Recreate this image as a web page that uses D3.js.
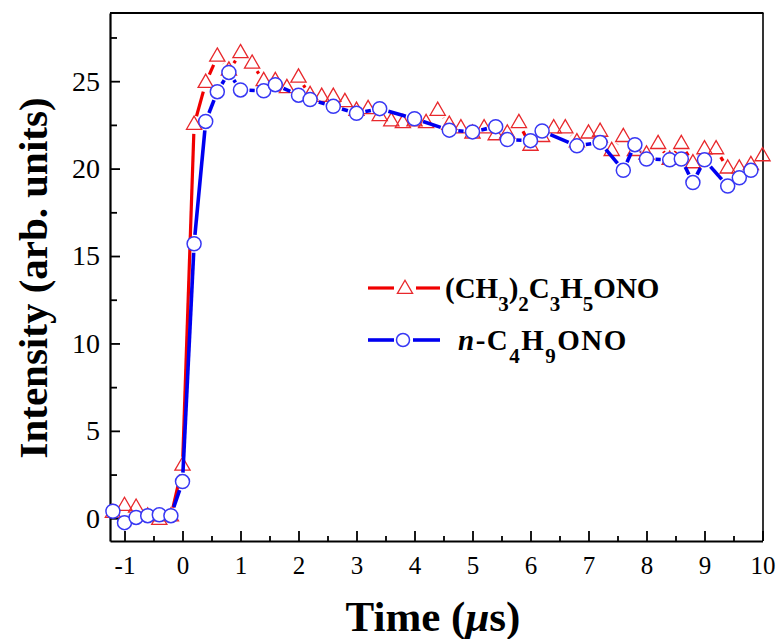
<!DOCTYPE html>
<meta charset="utf-8">
<style>
    body {
        margin: 0;
        background-color: white;
    }

    text {
        font-family: "Liberation Serif", "Times New Roman", serif;
    }

    .axis path,
    .axis line {
        stroke: black;
    }
</style>

<body>
    <script src="https://d3js.org/d3.v7.min.js"></script>

    <script>
        // (CH3)2C3H5ONO - triangles
        const redTime = [-1.2, -1.0, -0.8, -0.6, -0.4, -0.2, 0.0, 0.2, 0.4, 0.6, 0.8, 1.0, 1.2, 1.4, 1.6, 1.8,
            2.0, 2.2, 2.4, 2.6, 2.8, 3.0, 3.2, 3.4, 3.6, 3.8, 4.0, 4.2, 4.4, 4.6, 4.8, 5.0, 5.2, 5.4, 5.6, 5.8,
            6.0, 6.2, 6.4, 6.6, 6.8, 7.0, 7.2, 7.4, 7.6, 7.8, 8.0, 8.2, 8.4, 8.6, 8.8, 9.0, 9.2, 9.4, 9.6, 9.8, 10.0]
        const redIntensity = [0.3, 0.7, 0.6, 0.1, -0.1, 0.1, 3.0, 22.5, 24.9, 26.4, 25.6, 26.6, 26.0, 25.0, 25.0, 24.6,
            25.2, 24.2, 24.1, 24.1, 23.8, 23.3, 23.4, 23.0, 22.7, 22.6, 22.7, 22.6, 23.3, 22.5, 22.3, 22.0, 22.3, 21.9, 22.0, 22.6,
            21.3, 21.8, 22.3, 22.3, 21.5, 22.0, 22.1, 21.0, 21.8, 21.0, 20.8, 21.4, 20.5, 21.4, 20.3, 21.1, 21.1, 20.0, 20.0, 20.2, 20.7]

        // n-C4H9ONO - circles
        const blueTime = [-1.2, -1.0, -0.8, -0.6, -0.4, -0.2, 0.0, 0.2, 0.4, 0.6, 0.8, 1.0, 1.4, 1.6, 2.0, 2.2, 2.6,
            3.0, 3.4, 4.0, 4.6, 5.0, 5.4, 5.6, 6.0, 6.2, 6.8, 7.2, 7.6, 7.8, 8.0, 8.4, 8.6, 8.8, 9.0, 9.4, 9.6, 9.8]
        const blueIntensity = [0.4, -0.25, 0.05, 0.15, 0.2, 0.15, 2.1, 15.7, 22.7, 24.4, 25.5, 24.5, 24.45, 24.8, 24.2, 23.95, 23.56,
            23.16, 23.43, 22.85, 22.2, 22.1, 22.4, 21.66, 21.6, 22.15, 21.3, 21.5, 19.9, 21.37, 20.55, 20.5, 20.55, 19.2, 20.5, 19.0, 19.47, 19.9]

        const xTicks = [-1, 0, 1, 2, 3, 4, 5, 6, 7, 8, 9, 10]
        const xMinorTicks = [-0.5, 0.5, 1.5, 2.5, 3.5, 4.5, 5.5, 6.5, 7.5, 8.5, 9.5]
        const yTicks = [0, 5, 10, 15, 20, 25]
        const yMinorTicks = [2.5, 7.5, 12.5, 17.5, 22.5, 27.5]

        var width = 780,
            height = 639;

        var plotLeft = 110, plotRight = 762.5, plotTop = 13, plotBottom = 541;

        var svg = d3.select("body").append("svg")
            .attr("width", width)
            .attr("height", height)

        var x = d3.scaleLinear().domain([-1.25, 10]).range([plotLeft, plotRight])
        var y = d3.scaleLinear().domain([-1.3, 28.9]).range([plotBottom, plotTop])

        // frame
        svg.append("line").attr("x1", plotLeft).attr("x2", plotRight + 1).attr("y1", plotTop).attr("y2", plotTop)
            .attr("stroke", "black").attr("stroke-width", 1.8)
        svg.append("line").attr("x1", plotRight + 0.5).attr("x2", plotRight + 0.5).attr("y1", plotTop).attr("y2", plotBottom)
            .attr("stroke", "black").attr("stroke-width", 1.6)

        // x axis
        var xAxis = svg.append("g").attr("class", "axis")
            .attr("transform", "translate(0," + plotBottom + ")")
            .call(d3.axisBottom(x).tickValues(xTicks).tickSize(-10).tickPadding(15).tickSizeOuter(0))
        svg.append("g").attr("class", "axis")
            .attr("transform", "translate(0," + plotBottom + ")")
            .call(d3.axisBottom(x).tickValues(xMinorTicks).tickSize(-5).tickFormat("").tickSizeOuter(0))
            .select(".domain").remove()

        // y axis
        var yAxis = svg.append("g").attr("class", "axis")
            .attr("transform", "translate(" + plotLeft + ",0)")
            .call(d3.axisLeft(y).tickValues(yTicks).tickSize(-10).tickPadding(10).tickSizeOuter(0))
        svg.append("g").attr("class", "axis")
            .attr("transform", "translate(" + plotLeft + ",0)")
            .call(d3.axisLeft(y).tickValues(yMinorTicks).tickSize(-7).tickFormat("").tickSizeOuter(0))
            .select(".domain").remove()

        svg.selectAll(".axis .domain").attr("stroke-width", 2.2)
        svg.selectAll(".axis line").attr("stroke-width", 1.8)
        svg.selectAll(".axis text")
            .attr("font-size", 25)
            .attr("font-family", "Liberation Serif, Times New Roman, serif")
            .attr("fill", "black")
        yAxis.selectAll("text").attr("font-size", 28)
        xAxis.selectAll("text").text(d => d < 0 ? "-" + Math.abs(d) : d)

        // axis titles
        svg.append("text")
            .attr("transform", "translate(47," + 278 + ") rotate(-90)")
            .attr("text-anchor", "middle")
            .attr("font-size", 41)
            .attr("font-weight", "bold")
            .text("Intensity (arb. units)")

        var xTitle = svg.append("text")
            .attr("x", 433).attr("y", 631)
            .attr("text-anchor", "middle")
            .attr("font-size", 43)
            .attr("font-weight", "bold")
        xTitle.append("tspan").text("Time (")
        xTitle.append("tspan").attr("font-style", "italic").text("\u03bc")
        xTitle.append("tspan").text("s)")

        // Origin style lines: segments stop short of the symbols
        function drawSegments(xs, ys, color, w, gap) {
            var pts = xs.map((t, i) => [x(t), y(ys[i])])
            var segs = []
            for (var i = 0; i < pts.length - 1; i++) {
                var p0 = pts[i], p1 = pts[i + 1]
                var dx = p1[0] - p0[0], dy = p1[1] - p0[1]
                var d = Math.sqrt(dx * dx + dy * dy)
                if (d <= 2 * gap) continue
                var ux = dx / d, uy = dy / d
                segs.push([p0[0] + ux * gap, p0[1] + uy * gap, p1[0] - ux * gap, p1[1] - uy * gap])
            }
            svg.append("g").selectAll("line")
                .data(segs)
                .enter().append("line")
                .attr("x1", d => d[0]).attr("y1", d => d[1])
                .attr("x2", d => d[2]).attr("y2", d => d[3])
                .attr("stroke", color)
                .attr("stroke-width", w)
                .attr("stroke-linecap", "butt")
        }

        var tri = d3.symbol().type(d3.symbolTriangle).size(100)

        drawSegments(redTime, redIntensity, "#f00000", 3.2, 9)
        svg.append("g").selectAll("path")
            .data(redTime)
            .enter().append("path")
            .attr("d", tri)
            .attr("transform", (d, i) => "translate(" + x(d) + "," + y(redIntensity[i]) + ")")
            .attr("fill", "none")
            .attr("stroke", "#e8282c")
            .attr("stroke-width", 1.3)

        drawSegments(blueTime, blueIntensity, "#0000f0", 3.6, 9)
        svg.append("g").selectAll("circle")
            .data(blueTime)
            .enter().append("circle")
            .attr("cx", d => x(d))
            .attr("cy", (d, i) => y(blueIntensity[i]))
            .attr("r", 7)
            .attr("fill", "white")
            .attr("stroke", "#3838f4")
            .attr("stroke-width", 1.5)

        // legend
        var leg = svg.append("g")
        leg.append("line").attr("x1", 368).attr("x2", 394).attr("y1", 288).attr("y2", 288)
            .attr("stroke", "#f00000").attr("stroke-width", 3.2)
        leg.append("line").attr("x1", 416).attr("x2", 440).attr("y1", 288).attr("y2", 288)
            .attr("stroke", "#f00000").attr("stroke-width", 3.2)
        leg.append("path").attr("d", tri).attr("transform", "translate(405,289)")
            .attr("fill", "none").attr("stroke", "#e8282c").attr("stroke-width", 1.3)

        leg.append("line").attr("x1", 368).attr("x2", 394).attr("y1", 340).attr("y2", 340)
            .attr("stroke", "#0000f0").attr("stroke-width", 3.6)
        leg.append("line").attr("x1", 413).attr("x2", 440).attr("y1", 340).attr("y2", 340)
            .attr("stroke", "#0000f0").attr("stroke-width", 3.6)
        leg.append("circle").attr("cx", 403).attr("cy", 340).attr("r", 6.5)
            .attr("fill", "white").attr("stroke", "#3838f4").attr("stroke-width", 1.5)

        // formula text with subscripts: [text, kind]
        function formula(xp, yp, parts, spacing) {
            var t = leg.append("text").attr("x", xp).attr("y", yp)
                .attr("font-size", 29).attr("font-weight", "bold")
                .attr("letter-spacing", spacing)
            var down = false
            parts.forEach(function (p) {
                var s = t.append("tspan").text(p[0])
                if (p[1] == "sub") {
                    s.attr("font-size", 21).attr("dy", down ? 0 : 13)
                    down = true
                } else {
                    if (down) s.attr("dy", -13)
                    down = false
                    if (p[1] == "it") s.attr("font-style", "italic")
                }
            })
        }

        formula(445, 298, [["(CH"], ["3", "sub"], [")"], ["2", "sub"], ["C"], ["3", "sub"], ["H"], ["5", "sub"], ["ONO"]], 0)
        formula(458, 350, [["n", "it"], ["-C"], ["4", "sub"], ["H"], ["9", "sub"], ["ONO"]], 1.5)

    </script>
</body>

</html>
